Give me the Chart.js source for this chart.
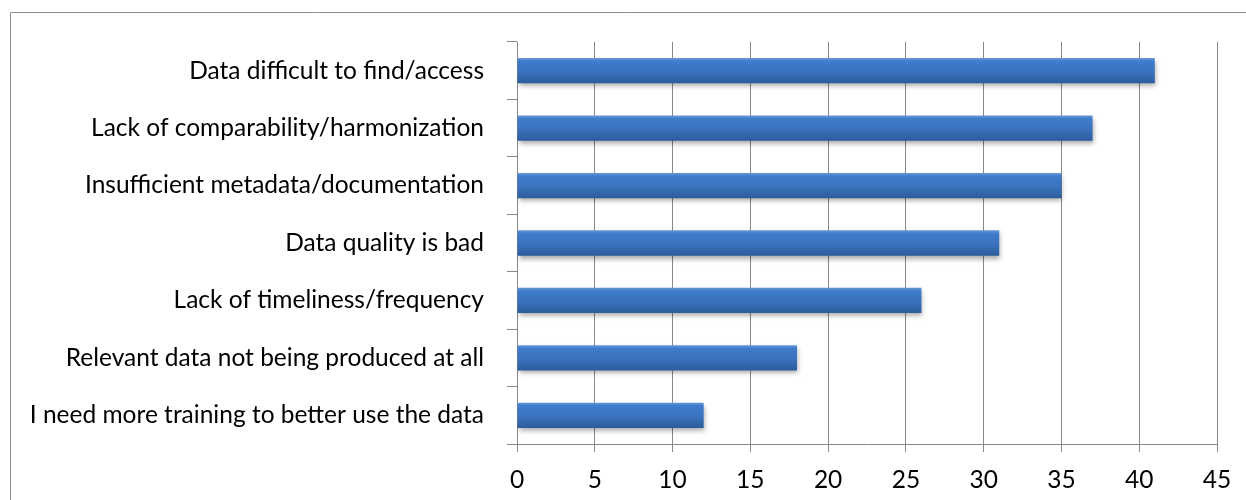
<!DOCTYPE html>
<html>
<head>
<meta charset="utf-8">
<script src="https://cdn.jsdelivr.net/npm/chart.js@4/dist/chart.umd.min.js"></script>
<style>
  html, body { margin: 0; padding: 0; background: #fff; }
  #wrap { width: 1246px; height: 500px; position: relative; }
</style>
</head>
<body>
<div id="wrap"><canvas id="myChart"></canvas></div>
<script>
const categories = [
  'Data difficult to find/access',
  'Lack of comparability/harmonization',
  'Insufficient metadata/documentation',
  'Data quality is bad',
  'Lack of timeliness/frequency',
  'Relevant data not being produced at all',
  'I need more training to better use the data'
];
const responses = [41, 37, 35, 31, 26, 18, 12];
const xTicks = [0, 5, 10, 15, 20, 25, 30, 35, 40, 45];

const BAR_PCT = 0.44;

// outer frame of the chart box
const framePlugin = {
  id: 'frame',
  beforeDraw(chart) {
    const c = chart.ctx;
    c.save();
    c.strokeStyle = '#8c8c8c';
    c.lineWidth = 1;
    c.beginPath();
    c.moveTo(10.5, 500);
    c.lineTo(10.5, 12.5);
    c.lineTo(1246, 12.5);
    c.stroke();
    c.restore();
  }
};

// soft drop shadow under the bars
const shadowPlugin = {
  id: 'barShadow',
  beforeDatasetsDraw(chart) {
    const c = chart.ctx;
    c.save();
    c.shadowColor = 'rgba(0,0,0,0.35)';
    c.shadowBlur = 5;
    c.shadowOffsetX = 1;
    c.shadowOffsetY = 3;
  },
  afterDatasetsDraw(chart) {
    chart.ctx.restore();
  }
};

// vertical gradient per bar, built from the category scale
function barFill(context) {
  const chart = context.chart;
  const area = chart.chartArea;
  if (!area || !chart.scales.y) return '#3a72bc';
  const mid = chart.scales.y.getPixelForValue(context.dataIndex);
  const h = (area.bottom - area.top) / categories.length * BAR_PCT;
  const top = mid - h / 2;
  const g = chart.ctx.createLinearGradient(0, top, 0, top + h);
  g.addColorStop(0, '#6a9ad8');
  g.addColorStop(0.12, '#3f7ccc');
  g.addColorStop(0.55, '#3a72bc');
  g.addColorStop(1, '#2c5c9c');
  return g;
}

const ctx = document.getElementById('myChart').getContext('2d');
new Chart(ctx, {
  type: 'bar',
  data: {
    labels: categories,
    datasets: [{
      data: responses,
      backgroundColor: barFill,
      borderWidth: 0,
      barPercentage: BAR_PCT,
      categoryPercentage: 1
    }]
  },
  options: {
    indexAxis: 'y',
    responsive: true,
    maintainAspectRatio: false,
    animation: false,
    layout: { padding: { top: 42, right: 29, left: 0, bottom: 0 } },
    plugins: {
      legend: { display: false },
      tooltip: { enabled: false }
    },
    scales: {
      x: {
        min: 0,
        max: 45,
        afterBuildTicks(scale) {
          scale.ticks = xTicks.map(v => ({ value: v }));
        },
        afterFit(scale) { scale.height = 56; },
        grid: { color: '#888888', tickLength: 8, lineWidth: 1 },
        border: { color: '#888888' },
        ticks: {
          color: '#000',
          padding: 13,
          font: { family: 'Lato', size: 24.5 }
        }
      },
      y: {
        afterFit(scale) { scale.width = 517; },
        grid: { offset: true, drawOnChartArea: false, color: '#888888', tickLength: 10 },
        border: { color: '#888888' },
        ticks: {
          color: '#000',
          padding: 23,
          font: { family: 'Lato', size: 24.5 }
        }
      }
    }
  },
  plugins: [framePlugin, shadowPlugin]
});
</script>
</body>
</html>
